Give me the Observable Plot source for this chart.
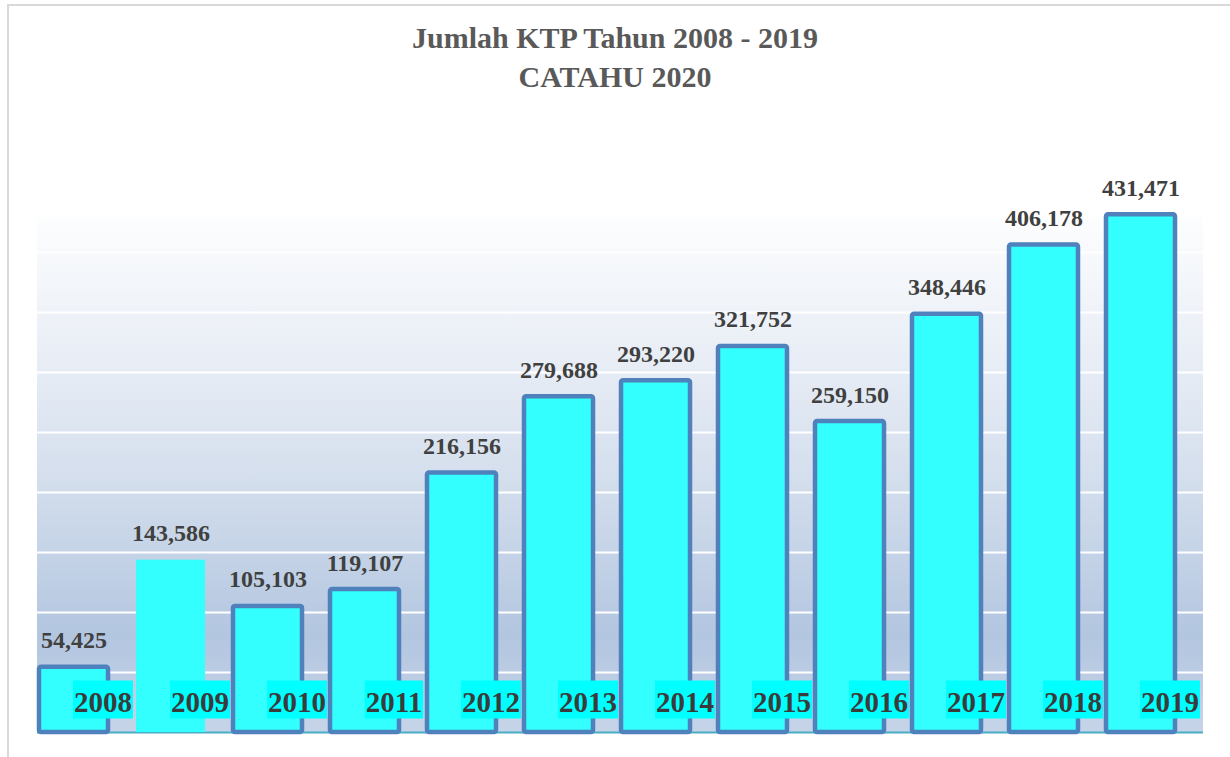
<!DOCTYPE html>
<html>
<head>
<meta charset="utf-8">
<script src="https://cdn.jsdelivr.net/npm/d3@7"></script>
<script src="https://cdn.jsdelivr.net/npm/@observablehq/plot@0.6"></script>
<style>
  html, body { margin: 0; padding: 0; background: #fff; }
  body { width: 1230px; height: 757px; overflow: hidden; position: relative; font-family: "Liberation Serif", "DejaVu Serif", serif; }
  #frame { position: absolute; left: 7px; top: 4px; width: 1260px; height: 800px; border-left: 2px solid #d9d9d9; border-top: 2px solid #d9d9d9; box-sizing: border-box; }
  #title { position: absolute; left: 0; top: 0; width: 1230px; height: 110px; text-align: center; color: #595959; font-family: "Liberation Serif", serif; font-weight: bold; font-size: 30px; line-height: 39px; }
  #title .l1 { padding-top: 18px; }
  #chart { position: absolute; left: 0; top: 110px; }
</style>
</head>
<body>
<div id="frame"></div>
<div id="title"><div class="l1">Jumlah KTP Tahun 2008 - 2019</div><div>CATAHU 2020</div></div>
<div id="chart"></div>
<script>
// ---- data ----
const years = ["2008", "2009", "2010", "2011", "2012", "2013", "2014", "2015", "2016", "2017", "2018", "2019"];
const counts = [54425, 143586, 105103, 119107, 216156, 279688, 293220, 321752, 259150, 348446, 406178, 431471];
const outlined = [true, false, true, true, true, true, true, true, true, true, true, true];
const gridValues = [50000, 100000, 150000, 200000, 250000, 300000, 350000, 400000];
const yMax = 450000;

const data = years.map((year, i) => ({ year, count: counts[i], outlined: outlined[i] }));
const fmt = d3.format(",");
const FONT = "Liberation Serif, DejaVu Serif, serif";

// background gradient of the plot area (drawn from the plot's dimensions)
function background(index, scales, values, dims) {
  const ns = "http://www.w3.org/2000/svg";
  const g = document.createElementNS(ns, "g");
  const defs = document.createElementNS(ns, "defs");
  const grad = document.createElementNS(ns, "linearGradient");
  grad.setAttribute("id", "bgGrad");
  grad.setAttribute("x1", "0"); grad.setAttribute("y1", "0");
  grad.setAttribute("x2", "0"); grad.setAttribute("y2", "1");
  [[0, "#ffffff"], [0.045, "#ffffff"], [0.05, "#fcfdfe"], [0.3, "#e9eef6"], [0.55, "#d2ddec"], [0.82, "#b3c6e0"], [1, "#c6d4e8"]]
    .forEach(([o, c]) => {
      const s = document.createElementNS(ns, "stop");
      s.setAttribute("offset", o);
      s.setAttribute("stop-color", c);
      grad.appendChild(s);
    });
  defs.appendChild(grad);
  g.appendChild(defs);
  const r = document.createElementNS(ns, "rect");
  r.setAttribute("x", dims.marginLeft);
  r.setAttribute("y", dims.marginTop);
  r.setAttribute("width", dims.width - dims.marginLeft - dims.marginRight);
  r.setAttribute("height", dims.height - dims.marginTop - dims.marginBottom);
  r.setAttribute("fill", "url(#bgGrad)");
  g.appendChild(r);
  return g;
}

const chart = Plot.plot({
  width: 1230,
  height: 647,
  marginTop: 82,
  marginBottom: 25,
  marginLeft: 37,
  marginRight: 27,
  style: { fontFamily: FONT, background: "transparent", overflow: "visible" },
  x: { domain: years, range: [24, 1189], paddingInner: 0.29, paddingOuter: 0.145, axis: null },
  y: { domain: [0, yMax], axis: null },
  marks: [
    background,
    Plot.ruleY(gridValues, { stroke: "#ffffff", strokeWidth: 2 }),
    Plot.ruleY([0], { stroke: "#4BACC6", strokeWidth: 2 }),
    Plot.barY(data.filter(d => d.outlined), { x: "year", y: "count", fill: "#33FFFF", stroke: "#4F81BD", strokeWidth: 4.5, rx: 2 }),
    Plot.barY(data.filter(d => !d.outlined), { x: "year", y: "count", fill: "#33FFFF" }),
    Plot.text(data, {
      x: "year", y: "count", text: d => fmt(d.count),
      lineAnchor: "bottom", dy: -19,
      fontSize: 24, fontWeight: "bold", fill: "#404040", fontFamily: FONT
    }),
    Plot.text(data, {
      x: "year", text: "year",
      frameAnchor: "bottom", lineAnchor: "bottom", dy: -21, dx: 29,
      fontSize: 29, fontWeight: "bold", fill: "#3b3b3b", fontFamily: FONT,
      ariaDescription: "year labels"
    })
  ]
});

document.getElementById("chart").appendChild(chart);

// cyan label boxes behind the year labels
(function () {
  const ns = "http://www.w3.org/2000/svg";
  let grp = chart.querySelector('g[aria-description="year labels"]');
  if (!grp) {
    const all = chart.querySelectorAll('g[aria-label="text"]');
    grp = all[all.length - 1];
  }
  if (!grp) return;
  Array.from(grp.querySelectorAll("text")).forEach(t => {
    const b = t.getBBox();
    const r = document.createElementNS(ns, "rect");
    r.setAttribute("x", b.x - 1);
    r.setAttribute("y", b.y - 5);
    r.setAttribute("width", b.width + 2);
    r.setAttribute("height", b.height + 6);
    r.setAttribute("fill", "#00FFFF");
    r.setAttribute("stroke", "none");
    const tr = t.getAttribute("transform");
    if (tr) r.setAttribute("transform", tr);
    grp.insertBefore(r, t);
  });
})();
</script>
</body>
</html>
